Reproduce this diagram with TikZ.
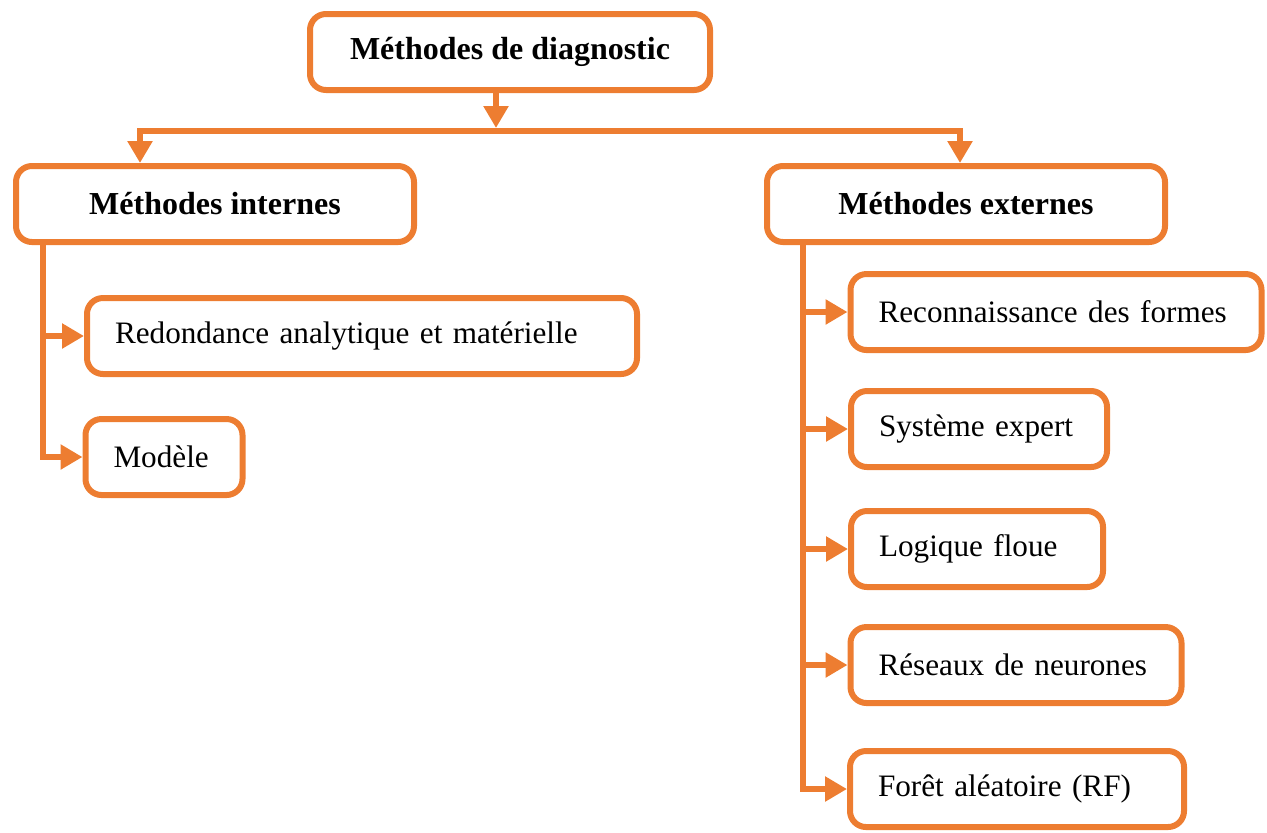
\documentclass[tikz,border=0pt]{standalone}
\usepackage{fontspec}
\setmainfont{Liberation Serif}
\usetikzlibrary{arrows.meta,positioning}
\definecolor{diagorange}{HTML}{ED7D31}
\tikzset{>={Triangle[width=12pt,length=11pt]}}

\begin{document}
\begin{tikzpicture}[x=0.5pt,y=-0.5pt,
  every node/.style={font=\fontsize{15.6}{19}\selectfont},
  box/.style={draw=diagorange,line width=3pt,rounded corners=8pt,minimum height=38pt,inner xsep=14pt},
  headbox/.style={box,font=\fontsize{16}{19}\selectfont\bfseries,minimum width=#1},
  leafbox/.style={box,align=left,text width=#1},
  link/.style={draw=diagorange,line width=3pt}]
\useasboundingbox (0,0) rectangle (1267,832);
% top
\node[headbox=200pt] (diag) at (510,52) {Méthodes de diagnostic};
\node[headbox=199pt] (int) at (215,204) {Méthodes internes};
\node[headbox=199pt] (ext) at (966,204) {Méthodes externes};
% internal methods
\node[leafbox=247pt] (redond) at (362,336) {Redondance analytique et matérielle};
\node[leafbox=50.5pt] (modele) at (164,457) {Modèle};
% external methods
\node[leafbox=177.5pt] (reco) at (1056,312) {Reconnaissance des formes};
\node[leafbox=100pt] (expert) at (979,429) {Système expert};
\node[leafbox=98pt] (floue) at (977,549) {Logique floue};
\node[leafbox=137.5pt] (neur) at (1016,665) {Réseaux de neurones};
\node[leafbox=139pt] (foret) at (1017,789) {Forêt aléatoire (RF)};
% connectors
\coordinate (split) at (496,131);
\coordinate (busL) at (140,131);
\coordinate (busR) at (960,131);
\coordinate (spineL) at (43,0);
\coordinate (spineR) at (803,0);
\draw[link,->,shorten >=1.5pt] (split |- diag.south) -- (split);
\draw[link,<->] (busL |- int.north) -- (busL) -- (busR) -- (busR |- ext.north);
\foreach \n in {redond,modele}
  \draw[link,->] (spineL |- int.south) |- (\n.west);
\foreach \n in {reco,expert,floue,neur,foret}
  \draw[link,->] (spineR |- ext.south) |- (\n.west);
\end{tikzpicture}
\end{document}
